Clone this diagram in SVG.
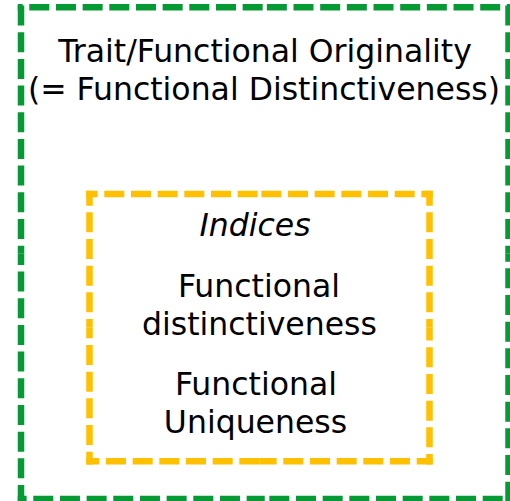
<svg xmlns="http://www.w3.org/2000/svg" width="510" height="501" viewBox="0 0 510 501">
<style>
.t{font-family:"DejaVu Sans",Verdana,sans-serif;font-size:31.5px;fill:#000;text-anchor:middle}
.g,.o{fill:none;stroke-width:6.5;stroke-dasharray:20 6.67}
.g{stroke:#069a34}
.o{stroke:#ffc000}
</style>
<rect width="510" height="501" fill="#fff"/>
<g id="outer">
<g id="outer-border">
<path class="g" d="M17.75,7.3H264.75" stroke-dashoffset="15.12"/>
<path class="g" d="M511.75,7.3H264.75" stroke-dashoffset="15.12"/>
<path class="g" d="M21,4.05V253.15" stroke-dashoffset="25.12"/>
<path class="g" d="M21,502.25V253.15" stroke-dashoffset="2.72"/>
<path class="g" d="M508.5,4.05V253.15" stroke-dashoffset="25.12"/>
<path class="g" d="M508.5,502.25V253.15" stroke-dashoffset="26.12"/>
<path class="g" d="M17.75,499H264.75" stroke-dashoffset="11.13"/>
<path class="g" d="M511.75,499H264.75" stroke-dashoffset="17.62"/>
</g>
<text class="t" x="265" y="62">Trait/Functional Originality</text>
<text class="t" x="264" y="100">(= Functional Distinctiveness)</text>
</g>
<g id="inner">
<g id="inner-border">
<path class="o" d="M86.25,194H259.5" stroke-dashoffset="8.62"/>
<path class="o" d="M432.75,194H259.5" stroke-dashoffset="8.62"/>
<path class="o" d="M89.5,190.75V327.65" stroke-dashoffset="5.12"/>
<path class="o" d="M89.5,464.55V327.65" stroke-dashoffset="7.12"/>
<path class="o" d="M429.5,190.75V327.65" stroke-dashoffset="5.12"/>
<path class="o" d="M429.5,464.55V327.65" stroke-dashoffset="9.42"/>
<path class="o" d="M86.25,461.3H259.5" stroke-dashoffset="6.92"/>
<path class="o" d="M432.75,461.3H259.5" stroke-dashoffset="3.92"/>
</g>
<text class="t" x="255" y="236" font-style="italic">Indices</text>
<text class="t" x="259" y="297">Functional</text>
<text class="t" x="259.5" y="335">distinctiveness</text>
<text class="t" x="256" y="395">Functional</text>
<text class="t" x="255.5" y="433">Uniqueness</text>
</g>
</svg>
